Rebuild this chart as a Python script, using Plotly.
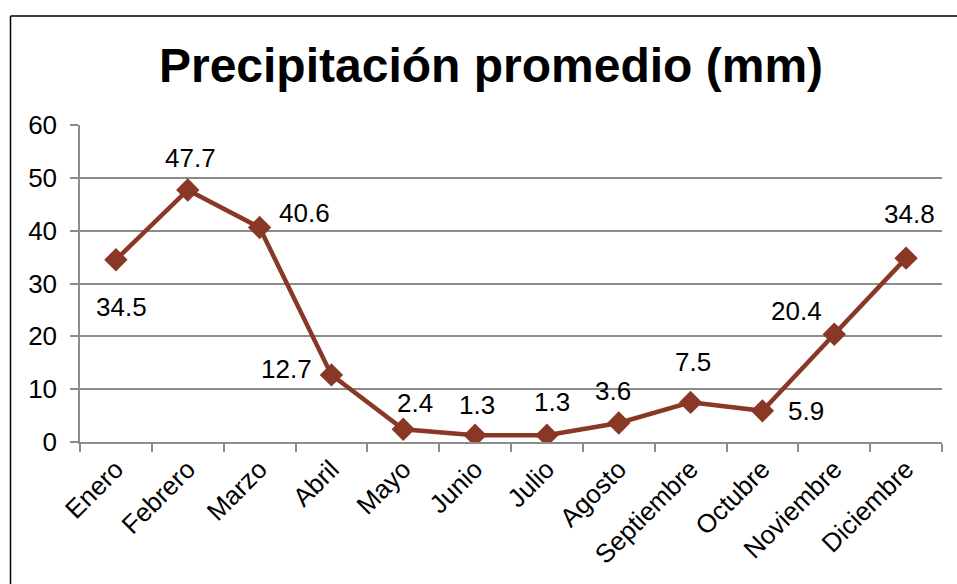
import plotly.graph_objects as go

months = ["Enero", "Febrero", "Marzo", "Abril", "Mayo", "Junio", "Julio",
          "Agosto", "Septiembre", "Octubre", "Noviembre", "Diciembre"]
precip = [34.5, 47.7, 40.6, 12.7, 2.4, 1.3, 1.3, 3.6, 7.5, 5.9, 20.4, 34.8]
y_ticks = [0, 10, 20, 30, 40, 50, 60]

# label offsets (pixels) relative to each marker
label_dx = [6, 3, 45, -45, 12, 2, 5, -6, 2, 44, -38, 3]
label_dy = [-47, 32, 15, 6, 26, 30, 33, 32, 40, 0, 23, 44]

FONT = "Arial, 'Liberation Sans', sans-serif"
LINE_COLOR = "#893826"
GRID = "#8c8c8c"
W, H = 957, 584

fig = go.Figure()
fig.add_trace(go.Scatter(
    x=months, y=precip, mode="lines+markers",
    line=dict(color=LINE_COLOR, width=4.5),
    marker=dict(symbol="diamond", size=18, color=LINE_COLOR),
    hoverinfo="x+y", showlegend=False,
))

for m, v, dx, dy in zip(months, precip, label_dx, label_dy):
    fig.add_annotation(x=m, y=v, text=f"{v:.1f}", showarrow=False,
                       xshift=dx, yshift=dy,
                       font=dict(family=FONT, size=26, color="#000000"))

fig.update_layout(
    width=W, height=H,
    margin=dict(l=80, r=W - 942, t=125, b=H - 442),
    paper_bgcolor="white", plot_bgcolor="white",
    font=dict(family=FONT, size=26, color="#000000"),
    title=dict(text="<b>Precipitación promedio (mm)</b>",
               x=491 / W, xanchor="center", xref="container",
               y=1 - 65 / H, yanchor="middle", yref="container",
               font=dict(family=FONT, size=48, color="#000000")),
    xaxis=dict(
        type="category", tickangle=-45, tickson="boundaries",
        ticks="outside", ticklen=8, tickcolor=GRID, tickwidth=1.5,
        showline=True, linecolor=GRID, linewidth=1.5,
        showgrid=False, range=[-0.5, 11.5],
        tickfont=dict(family=FONT, size=26, color="#000000"),
    ),
    yaxis=dict(
        range=[0, 60], tickvals=y_ticks, ticktext=[str(t) for t in y_ticks],
        ticks="outside", ticklen=8, tickcolor=GRID, tickwidth=1.5,
        showline=True, linecolor=GRID, linewidth=1.5,
        showgrid=True, gridcolor=GRID, gridwidth=1.5,
        zeroline=False, ticklabelstandoff=8,
        tickfont=dict(family=FONT, size=26, color="#000000"),
    ),
    shapes=[
        dict(type="line", xref="paper", yref="paper",
             x0=(10.5 - 80) / 862, x1=(10.5 - 80) / 862,
             y0=(442 - H) / 317, y1=(442 - 16) / 317,
             line=dict(color="#000000", width=1.5), layer="above"),
        dict(type="line", xref="paper", yref="paper",
             x0=(10.5 - 80) / 862, x1=(W - 80) / 862,
             y0=(442 - 16) / 317, y1=(442 - 16) / 317,
             line=dict(color="#000000", width=1.5), layer="above"),
    ],
)

fig.write_html(
    "out.html",
    config={"displayModeBar": False},
    post_script="document.body.style.margin='0';"
                "document.body.style.overflow='hidden';",
)
